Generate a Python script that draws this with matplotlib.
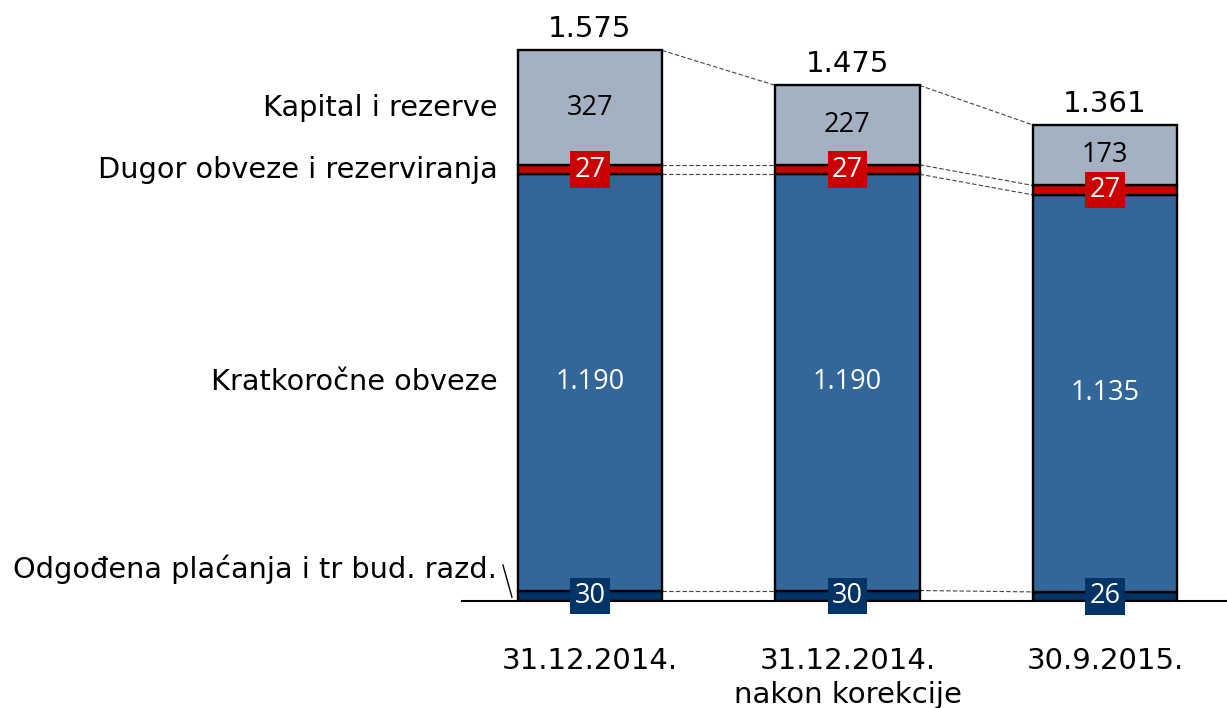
import numpy as np
import matplotlib
matplotlib.use('Agg')
import matplotlib.pyplot as plt

# data
categories = ['31.12.2014.', '31.12.2014.\nnakon korekcije', '30.9.2015.']
odgodena = [30, 30, 26]
kratkorocne = [1190, 1190, 1135]
dugor = [27, 27, 27]
kapital = [327, 227, 173]
totals = [1575, 1475, 1361]
series_names = ['Odgođena plaćanja i tr bud. razd.', 'Kratkoročne obveze',
                'Dugor obveze i rezerviranja', 'Kapital i rezerve']

c_navy = '#003366'
c_blue = '#336699'
c_red = '#cc0000'
c_gray = '#a3b1c2'

fig = plt.figure(figsize=(12.27, 7.08), dpi=100)
ax = fig.add_axes([462 / 1227, 107 / 708, 765 / 1227, 601 / 708])

x = np.arange(len(categories))
w = 0.56
series = [odgodena, kratkorocne, dugor, kapital]
colors = [c_navy, c_blue, c_red, c_gray]
bottoms = np.zeros(len(categories))
bounds = [bottoms.copy()]
for vals, col in zip(series, colors):
    ax.bar(x, vals, w, bottom=bottoms, color=col, edgecolor='black', linewidth=1.7, zorder=2)
    bottoms = bottoms + np.array(vals)
    bounds.append(bottoms.copy())

# dashed connectors between bars
for b in bounds[1:]:
    for i in range(len(x) - 1):
        ax.plot([x[i] + w / 2, x[i + 1] - w / 2], [b[i], b[i + 1]], ls=(0, (4, 2)),
                color='#444444', lw=0.8, zorder=1)

inner = dict(family='Open Sans', fontsize=19.5)
for i in range(len(x)):
    b = bounds
    ax.text(x[i], (b[0][i] + b[1][i]) / 2, str(odgodena[i]), ha='center', va='center',
            color='white', zorder=4, bbox=dict(boxstyle='square,pad=0.15', fc=c_navy, ec='none'), **inner)
    ax.text(x[i], (b[1][i] + b[2][i]) / 2, f'{kratkorocne[i] / 1000:.3f}', ha='center', va='center',
            color='white', zorder=4, **inner)
    ax.text(x[i], (b[2][i] + b[3][i]) / 2, str(dugor[i]), ha='center', va='center',
            color='white', zorder=4, bbox=dict(boxstyle='square,pad=0.15', fc=c_red, ec='none'), **inner)
    ax.text(x[i], (b[3][i] + b[4][i]) / 2, str(kapital[i]), ha='center', va='center',
            color='black', zorder=4, **inner)
    ax.annotate(f'{totals[i] / 1000:.3f}', (x[i], totals[i]), xytext=(0, 5), textcoords='offset points',
                ha='center', va='bottom', fontsize=21, family='DejaVu Sans')

# series labels on the left
lx = -0.36
fs = 20.7
ax.text(lx, (bounds[3][0] + bounds[4][0]) / 2, series_names[3], ha='right', va='center', fontsize=fs)
ax.text(lx, (bounds[2][0] + bounds[3][0]) / 2, series_names[2], ha='right', va='center', fontsize=fs)
ax.text(lx, (bounds[1][0] + bounds[2][0]) / 2, series_names[1], ha='right', va='center', fontsize=fs)
ax.text(lx, 90, series_names[0], ha='right', va='center', fontsize=fs)
ax.plot([-0.338, -0.303], [103, 11], color='black', lw=1, clip_on=False)

ax.set_xlim(-0.497, 2.474)
ax.set_ylim(0, 601 / 0.3498)
ax.set_xticks(x)
ax.set_xticklabels(categories, fontsize=21, linespacing=1.3)
ax.tick_params(axis='x', length=0, pad=33)
ax.set_yticks([])
for s in ['top', 'right', 'left']:
    ax.spines[s].set_visible(False)
ax.spines['bottom'].set_linewidth(1.5)
ax.spines['bottom'].set_zorder(3)

fig.savefig('out.png', dpi=100)
